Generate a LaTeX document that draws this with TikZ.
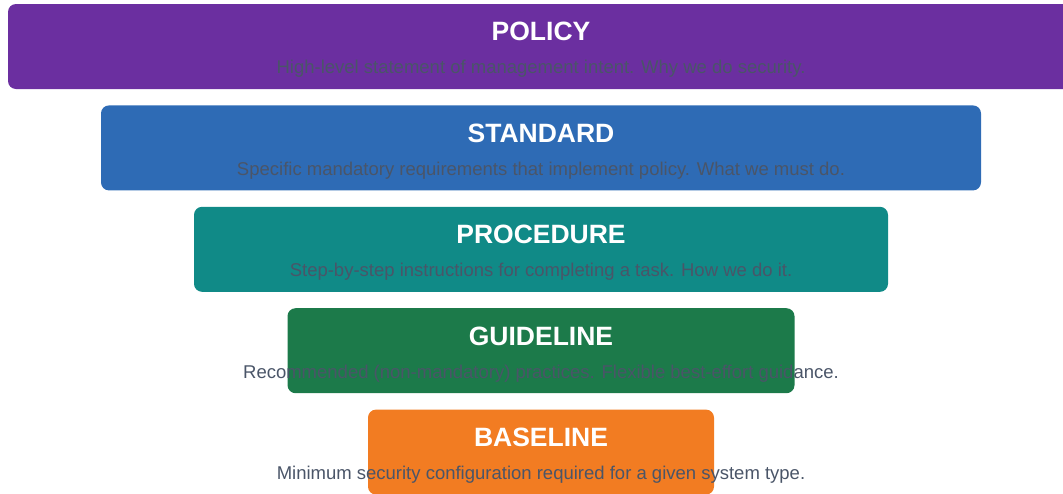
\documentclass[tikz,border=0pt]{standalone}
\usepackage{fontspec}
\setmainfont{Liberation Sans}
\usetikzlibrary{positioning}
\definecolor{policypurple}{RGB}{107,47,160}
\definecolor{standardblue}{RGB}{46,107,181}
\definecolor{procedureteal}{RGB}{16,138,135}
\definecolor{guidelinegreen}{RGB}{28,122,74}
\definecolor{baselineorange}{RGB}{242,124,34}
\definecolor{descgray}{RGB}{74,85,104}

\begin{document}
\begin{tikzpicture}[x=1pt,y=-1pt,node distance=16pt,inner sep=0pt]
\tikzstyle{layer}=[rectangle, rounded corners=8pt, minimum height=85pt]
\tikzstyle{layertitle}=[anchor=base, text=white, font=\bfseries\fontsize{26.5}{30}\selectfont]
\tikzstyle{layerdesc}=[anchor=base, text=descgray, font=\fontsize{18.5}{22}\selectfont]
\useasboundingbox (0,0) rectangle (1063,493);

% the five layers, widest on top
\node[layer, fill=policypurple, minimum width=1066pt] (policy) at (541,46.5) {};
\node[layer, fill=standardblue, minimum width=880pt] (standard) [below=of policy] {};
\node[layer, fill=procedureteal, minimum width=694pt] (procedure) [below=of standard] {};
\node[layer, fill=guidelinegreen, minimum width=507pt] (guideline) [below=of procedure] {};
\node[layer, fill=baselineorange, minimum width=346pt] (baseline) [below=of guideline] {};

% titles and descriptions
\node[layertitle] (policyT) at ([yshift=-37pt]policy.north) {POLICY};
\node[layerdesc] (policyD) at ([yshift=-70pt]policy.north) {High-level statement of management intent. Why we do security.};
\node[layertitle] (standardT) at ([yshift=-37pt]standard.north) {STANDARD};
\node[layerdesc] (standardD) at ([yshift=-70pt]standard.north) {Specific mandatory requirements that implement policy. What we must do.};
\node[layertitle] (procedureT) at ([yshift=-37pt]procedure.north) {PROCEDURE};
\node[layerdesc] (procedureD) at ([yshift=-70pt]procedure.north) {Step-by-step instructions for completing a task. How we do it.};
\node[layertitle] (guidelineT) at ([yshift=-37pt]guideline.north) {GUIDELINE};
\node[layerdesc] (guidelineD) at ([yshift=-70pt]guideline.north) {Recommended (non-mandatory) practices. Flexible best-effort guidance.};
\node[layertitle] (baselineT) at ([yshift=-37pt]baseline.north) {BASELINE};
\node[layerdesc] (baselineD) at ([yshift=-70pt]baseline.north) {Minimum security configuration required for a given system type.};
\end{tikzpicture}
\end{document}
